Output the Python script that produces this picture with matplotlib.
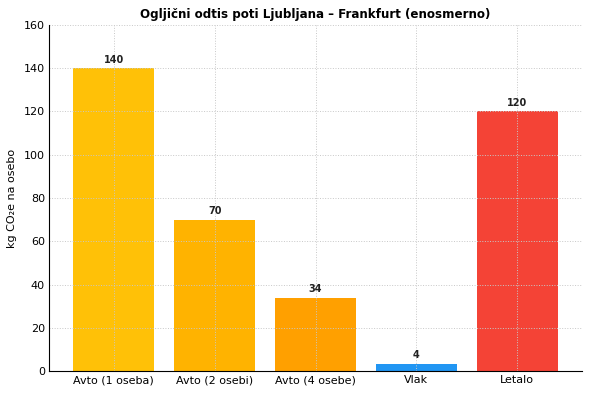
import matplotlib
matplotlib.use("Agg")
import matplotlib.pyplot as plt

categories = ["Avto (1 oseba)", "Avto (2 osebi)", "Avto (4 osebe)", "Vlak", "Letalo"]
values = [140, 70, 34, 3.5, 120]
labels = ["140", "70", "34", "4", "120"]
colors = ["#FFC107", "#FFB300", "#FFA000", "#2196F3", "#F44336"]

fig, ax = plt.subplots(figsize=(5.92, 3.95), dpi=100)
x = range(len(categories))
bars = ax.bar(x, values, width=0.8, color=colors)
for b, lab in zip(bars, labels):
    ax.text(b.get_x() + b.get_width() / 2, b.get_height() + 1.5, lab,
            ha="center", va="bottom", fontsize=7, fontweight="bold", color="#222222")
ax.set_xticks(list(x))
ax.set_xticklabels(categories, fontsize=8)
ax.set_ylim(0, 160)
ax.set_yticks(range(0, 161, 20))
ax.tick_params(axis="y", labelsize=8)
ax.tick_params(length=0, pad=3)
ax.set_ylabel("kg CO₂e na osebo", fontsize=8, labelpad=5)
ax.set_title("Ogljični odtis poti Ljubljana – Frankfurt (enosmerno)", fontsize=8.6,
             fontweight="bold", pad=5)
ax.grid(True, linestyle=":", color="#c8c8c8", linewidth=0.7)
ax.spines["top"].set_visible(False)
ax.spines["right"].set_visible(False)
fig.subplots_adjust(left=0.083, right=0.983, top=0.937, bottom=0.06)
fig.savefig("out.png", dpi=100)
